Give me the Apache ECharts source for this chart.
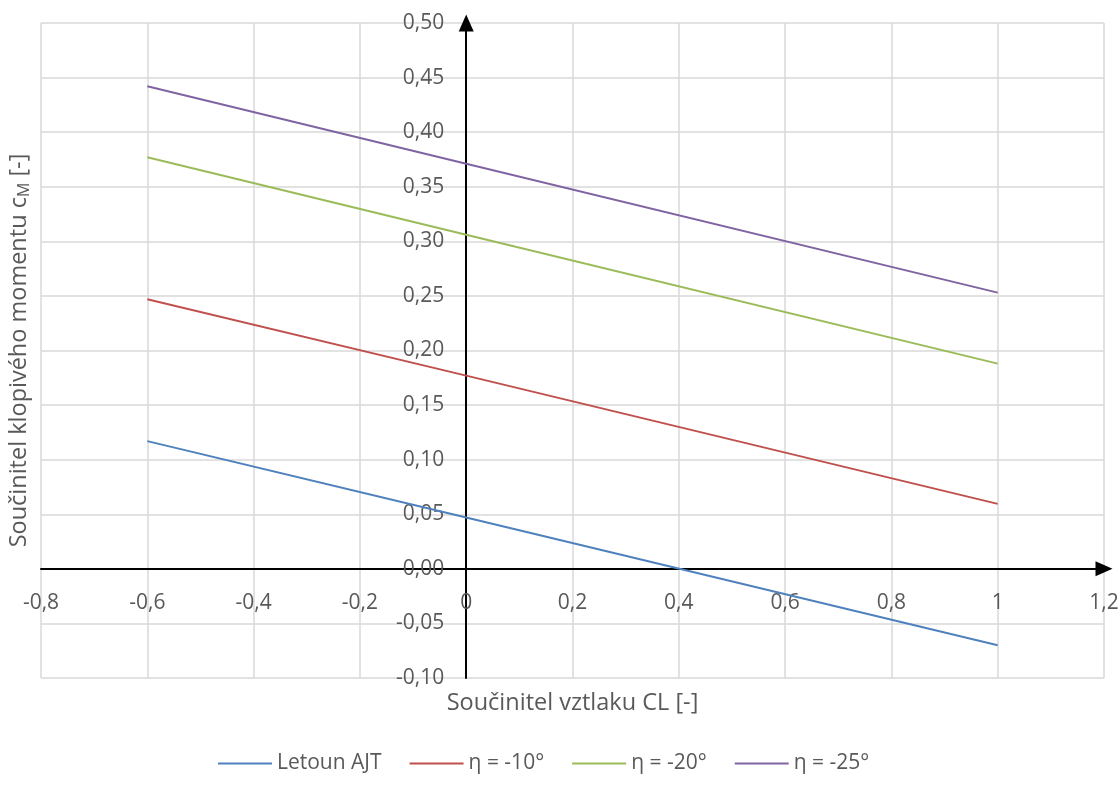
<!DOCTYPE html>
<html>
<head>
<meta charset="utf-8">
<script src="https://cdn.jsdelivr.net/npm/echarts@6/dist/echarts.min.js"></script>
<style>
  html, body { margin: 0; padding: 0; background: #ffffff; }
  #chart { width: 1120px; height: 798px; }
</style>
</head>
<body>
<div id="chart"></div>
<script>
// Lift coefficient values where each curve is sampled
const clValues = [-0.6, 0, 1];

// Pitching moment coefficient for each configuration
const letounAJT = [0.117, 0.047, -0.070];
const eta10 = [0.247, 0.177, 0.0595];
const eta20 = [0.377, 0.306, 0.188];
const eta25 = [0.442, 0.371, 0.253];

const seriesNames = ['Letoun AJT', 'η = -10°', 'η = -20°', 'η = -25°'];
const seriesColors = ['#4F81BD', '#C0504D', '#9BBB59', '#8064A2'];
const seriesValues = [letounAJT, eta10, eta20, eta25];

const xAxisTitle = 'Součinitel vztlaku CL [-]';
const yAxisTitleMain = 'Součinitel klopivého momentu c';
const yAxisTitleSub = 'M';
const yAxisTitleEnd = ' [-]';

const X_MIN = -0.8, X_MAX = 1.2, X_STEP = 0.2;
const Y_MIN = -0.1, Y_MAX = 0.5, Y_STEP = 0.05;

const FONT = '"Open Sans", sans-serif';
const TEXT = '#595959';
const GRID = '#d9d9d9';

const gridBox = { left: 41, right: 16, top: 23, bottom: 120, outerBoundsMode: 'none' };

function fmtX(v) {
  const r = Math.round(v * 10) / 10;
  if (Math.abs(r - Math.round(r)) < 1e-9) return String(Math.round(r));
  return r.toFixed(1).replace('.', ',');
}
function fmtY(v) {
  const r = Math.round(v * 100) / 100;
  return (Math.abs(r) < 1e-9 ? 0 : r).toFixed(2).replace('.', ',');
}

const chart = echarts.init(document.getElementById('chart'), null, { renderer: 'canvas' });

const series = seriesNames.map((name, i) => ({
  name: name,
  type: 'line',
  data: clValues.map((x, k) => [x, seriesValues[i][k]]),
  symbol: 'none',
  lineStyle: { color: seriesColors[i], width: 2 },
  itemStyle: { color: seriesColors[i] },
  animation: false
}));

const plotCenterX = gridBox.left + (1120 - gridBox.left - gridBox.right) / 2;
const plotCenterY = gridBox.top + (798 - gridBox.top - gridBox.bottom) / 2;

const axisArrow = {
  show: true,
  onZero: false,
  lineStyle: { color: '#000000', width: 2 },
  symbol: ['none', 'triangle'],
  symbolSize: [15, 17]
};

chart.setOption({
  backgroundColor: '#ffffff',
  animation: false,
  grid: gridBox,
  xAxis: {
    type: 'value',
    min: X_MIN,
    max: X_MAX,
    interval: X_STEP,
    offset: 0,
    axisLine: axisArrow,
    axisTick: { show: false },
    axisLabel: {
      formatter: fmtX,
      color: TEXT,
      fontFamily: FONT,
      fontSize: 21,
      margin: 24
    },
    splitLine: { show: true, lineStyle: { color: GRID, width: 1.5 } }
  },
  yAxis: {
    type: 'value',
    min: Y_MIN,
    max: Y_MAX,
    interval: Y_STEP,
    offset: 0,
    axisLine: axisArrow,
    axisTick: { show: false },
    axisLabel: {
      formatter: fmtY,
      color: TEXT,
      fontFamily: FONT,
      fontSize: 21,
      margin: 22
    },
    splitLine: { show: true, lineStyle: { color: GRID, width: 1.5 } }
  },
  legend: {
    data: seriesNames,
    top: 748,
    left: 213,
    icon: 'rect',
    itemWidth: 54,
    itemHeight: 2,
    itemGap: 28,
    textStyle: { color: TEXT, fontFamily: FONT, fontSize: 21 }
  },
  graphic: [
    {
      type: 'text',
      x: plotCenterX,
      y: 703,
      style: {
        text: xAxisTitle,
        fill: TEXT,
        font: '23.5px ' + FONT,
        align: 'center',
        verticalAlign: 'middle'
      }
    },
    {
      type: 'text',
      x: 19,
      y: plotCenterY,
      rotation: Math.PI / 2,
      style: {
        text: yAxisTitleMain + '{sub|' + yAxisTitleSub + '}' + yAxisTitleEnd,
        fill: TEXT,
        font: '23.5px ' + FONT,
        align: 'center',
        verticalAlign: 'middle',
        rich: {
          sub: { fill: TEXT, font: '16px ' + FONT, padding: [10, 0, 0, 0] }
        }
      }
    }
  ],
  series: series
});

// Move both axes so they cross at the origin (labels follow the axis lines)
const corner = chart.convertToPixel({ gridIndex: 0 }, [X_MIN, Y_MIN]);
const origin = chart.convertToPixel({ gridIndex: 0 }, [0, 0]);
chart.setOption({
  xAxis: { offset: origin[1] - corner[1] },
  yAxis: { offset: corner[0] - origin[0] }
});
</script>
</body>
</html>
